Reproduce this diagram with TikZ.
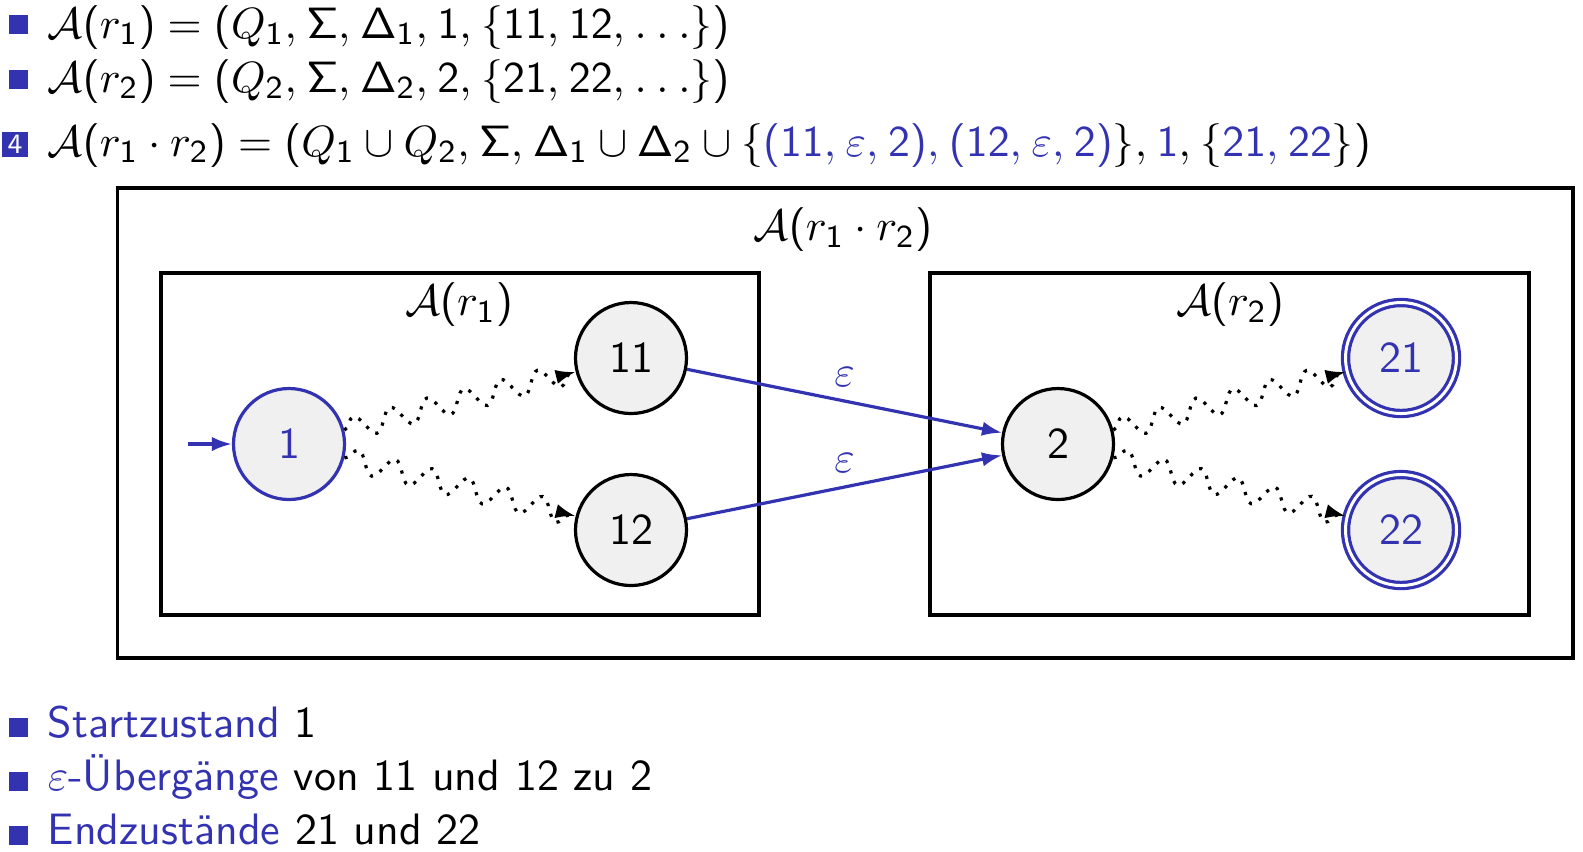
\documentclass[tikz,border=0pt]{standalone}
\usepackage[no-math]{fontspec}
\setmainfont{Latin Modern Sans}
\SetSymbolFont{operators}{normal}{OT1}{cmss}{m}{n}
\usetikzlibrary{arrows.meta,decorations.pathmorphing}
\definecolor{struct}{rgb}{0.2,0.2,0.7}
\thinmuskip=4mu

\tikzset{
  state/.style={circle,draw,thick,fill=black!6,minimum size=27.75pt,inner sep=0pt},
  startstate/.style={state,draw=struct,text=struct},
  finalstate/.style={state,draw=struct,text=struct,double=white,double distance=0.75pt},
  tip/.style={-{Latex[length=5pt,width=3.6pt]}},
  wavy/.style={tip,dotted,thick,decorate,
    decoration={snake,amplitude=2.75pt,segment length=9.5pt,post length=1pt}},
  epsarrow/.style={tip,draw=struct,thick},
  itemsq/.style={fill=struct,minimum size=4.75pt,inner sep=0pt},
  txt/.style={anchor=base west,inner sep=0pt},
}

\begin{document}
\begin{tikzpicture}[x=0.25pt,y=-0.25pt,font=\fontsize{11}{13}\selectfont]
  \useasboundingbox (0,0) rectangle (1583,851);

  %% definitions on top
  \node[itemsq] (b1) at (18.5,24.5) {};
  \node[txt] (l1) at (47,38) {$\mathcal{A}(r_1) = (Q_1, \Sigma, \Delta_1, 1, \{11, 12, \ldots\})$};
  \node[itemsq] (b2) at (18.5,79) {};
  \node[txt] (l2) at (47,92) {$\mathcal{A}(r_2) = (Q_2, \Sigma, \Delta_2, 2, \{21, 22, \ldots\})$};
  \node[fill=struct,text=white,minimum width=6.5pt,minimum height=6.25pt,inner sep=0pt,
        font=\fontsize{7}{8}\selectfont] (b3) at (15,144.5) {4};
  \node[txt] (l3) at (47,156) {$\mathcal{A}(r_1 \cdot r_2) = (Q_1 \cup Q_2, \Sigma, \Delta_1 \cup \Delta_2 \cup
    \{\textcolor{struct}{(11, \varepsilon, 2), (12, \varepsilon, 2)}\}, \textcolor{struct}{1},
    \{\textcolor{struct}{21, 22}\})$};

  %% boxes
  \draw[thick] (117.5,188) rectangle (1573,658);
  \draw[thick] (161,273) rectangle (759,615);
  \draw[thick] (930,273) rectangle (1529,615);
  \node (TOP) at (843,230) {$\mathcal{A}(r_1 \cdot r_2)$};
  \node (LEFT) at (459,305) {$\mathcal{A}(r_1)$};
  \node (RIGHT) at (1230,305) {$\mathcal{A}(r_2)$};

  %% states
  \node[startstate] (s1) at (289,444) {1};
  \node[state] (s11) at (631,358) {11};
  \node[state] (s12) at (631,530) {12};
  \node[state] (s2) at (1058,444) {2};
  \node[finalstate] (s21) at (1401,358) {21};
  \node[finalstate] (s22) at (1401,530) {22};
  \coordinate (in) at (188,444);

  %% transitions
  \draw[epsarrow] (in) -- (s1);
  \draw[wavy] (s1) -- (s11);
  \draw[wavy] (s1) -- (s12);
  \draw[wavy] (s2) -- (s21);
  \draw[wavy] (s2) -- (s22);
  \draw[epsarrow] (s11) -- node[above,text=struct] {$\varepsilon$} (s2);
  \draw[epsarrow] (s12) -- node[above,text=struct] {$\varepsilon$} (s2);

  %% explanation below
  \node[itemsq] (b4) at (18,727.5) {};
  \node[txt] (l4) at (47,737) {\textcolor{struct}{Startzustand} 1};
  \node[itemsq] (b5) at (18,781.5) {};
  \node[txt] (l5) at (47,790) {\textcolor{struct}{$\varepsilon$-Übergänge} von 11 und 12 zu 2};
  \node[itemsq] (b6) at (18,835.5) {};
  \node[txt] (l6) at (47,844) {\textcolor{struct}{Endzustände} 21 und 22};
\end{tikzpicture}
\end{document}
